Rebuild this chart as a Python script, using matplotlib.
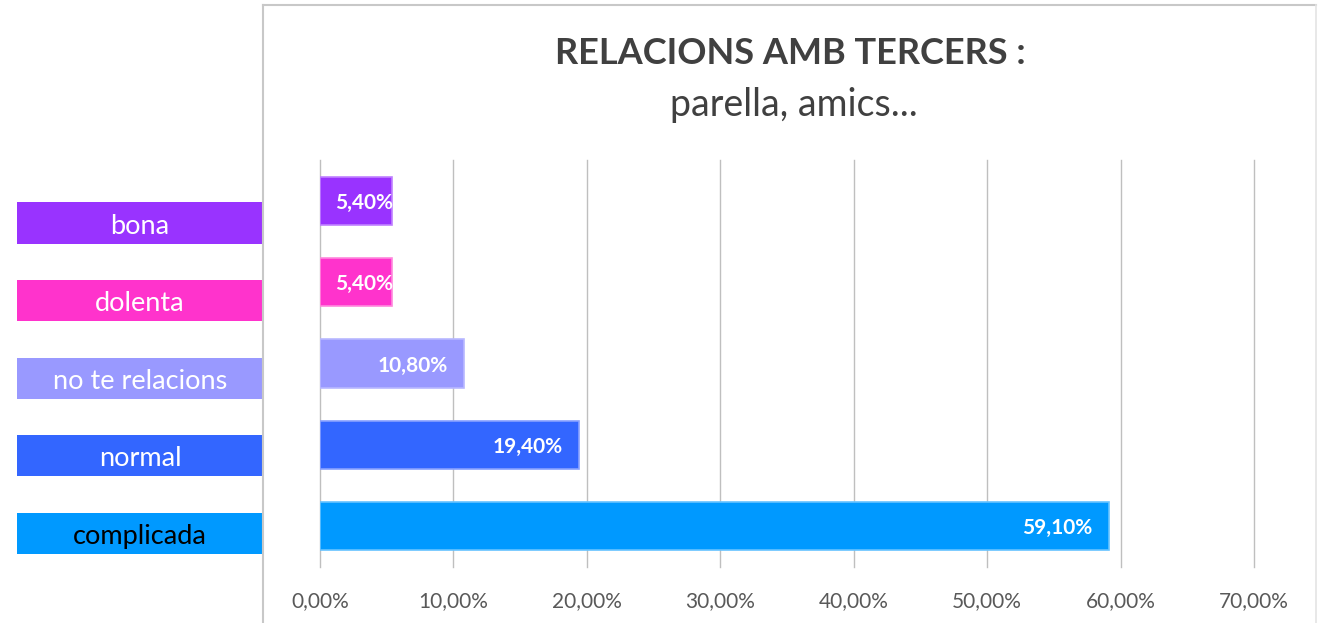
import matplotlib
matplotlib.use("Agg")
import matplotlib.pyplot as plt
from matplotlib.lines import Line2D

categories = ["bona", "dolenta", "no te relacions", "normal", "complicada"]
values = [0.054, 0.054, 0.108, 0.194, 0.591]
value_labels = ["5,40%", "5,40%", "10,80%", "19,40%", "59,10%"]
colors = ["#9933FF", "#FF33CC", "#9999FF", "#3366FF", "#0099FF"]
edge_colors = ["#C080FF", "#FF88DD", "#B8B8FF", "#88A0FF", "#66C2FF"]
label_text_colors = ["white", "white", "white", "white", "black"]
xticks = [0, 0.1, 0.2, 0.3, 0.4, 0.5, 0.6, 0.7]
xtick_labels = ["0,00%", "10,00%", "20,00%", "30,00%", "40,00%", "50,00%", "60,00%", "70,00%"]
title_main = "RELACIONS AMB TERCERS :"
title_sub = "parella, amics..."

W, H = 1322, 623
DPI = 100
plt.rcParams['font.family'] = ['Lato', 'DejaVu Sans']
fig = plt.figure(figsize=(W / DPI, H / DPI), dpi=DPI)

def fx(px):
    return px / W

def fy(py):
    return 1 - py / H

# main chart axes
ax = fig.add_axes([fx(320), fy(567), fx(1254) - fx(320), fy(160) - fy(567)])
ypos = list(range(len(categories)))
bars = ax.barh(ypos, values, height=0.59, color=colors, edgecolor=edge_colors, linewidth=1.2, zorder=3)
ax.set_xlim(0, 0.70)
ax.set_ylim(len(categories) - 0.5, -0.5)
ax.set_xticks(xticks)
ax.set_xticklabels(xtick_labels, fontsize=15, color="#595959")
ax.tick_params(axis='x', length=0, pad=17)
ax.set_yticks([])
for s in ax.spines.values():
    s.set_visible(False)
ax.grid(axis='x', color="#BFBFBF", linewidth=1.0, zorder=0)
ax.set_axisbelow(True)
for gl in ax.get_xgridlines():
    gl.set_clip_on(False)

fig.canvas.draw()
renderer = fig.canvas.get_renderer()
for b, v, lab in zip(bars, values, value_labels):
    t = ax.annotate(lab, xy=(v, b.get_y() + b.get_height() / 2), xytext=(-16 * 72 / DPI, -2 * 72 / DPI),
                    textcoords='offset points', ha='right', va='center',
                    color='white', fontsize=15, fontweight='bold', zorder=5)
    bb = t.get_window_extent(renderer)
    x0_px = ax.transData.transform((0, 0))[0]
    if bb.x0 < x0_px + 15:
        shift = (x0_px + 15) - bb.x0
        t.xyann = (-16 * 72 / DPI + shift * 72 / DPI, -2 * 72 / DPI)

# left category label boxes
axl = fig.add_axes([fx(17), fy(572.3), fx(263) - fx(17), fy(184.2) - fy(572.3)])
axl.barh(ypos, [1] * len(categories), height=0.53, color=colors, edgecolor='none')
axl.set_xlim(0, 1)
axl.set_ylim(len(categories) - 0.5, -0.5)
axl.axis('off')
for y, c, tc in zip(ypos, categories, label_text_colors):
    axl.annotate(c, xy=(0.5, y), xytext=(0, -3 * 72 / DPI), textcoords='offset points',
                 ha='center', va='center', color=tc, fontsize=19.5)

# titles
fig.text(fx(790), fy(54), title_main, ha='center', va='center', fontsize=26, fontweight='bold', color="#404040")
fig.text(fx(794), fy(105), title_sub, ha='center', va='center', fontsize=27, color="#404040")

# chart frame
frame_c = "#C8C8C8"
fig.add_artist(Line2D([fx(263), fx(263)], [fy(5), 0], color=frame_c, linewidth=1.5, transform=fig.transFigure))
fig.add_artist(Line2D([fx(263), fx(1316)], [fy(5), fy(5)], color=frame_c, linewidth=1.5, transform=fig.transFigure))
fig.add_artist(Line2D([fx(1316), fx(1316)], [fy(5), 0], color="#E4E4E4", linewidth=1.2, transform=fig.transFigure))

fig.savefig("out.png", dpi=DPI)
